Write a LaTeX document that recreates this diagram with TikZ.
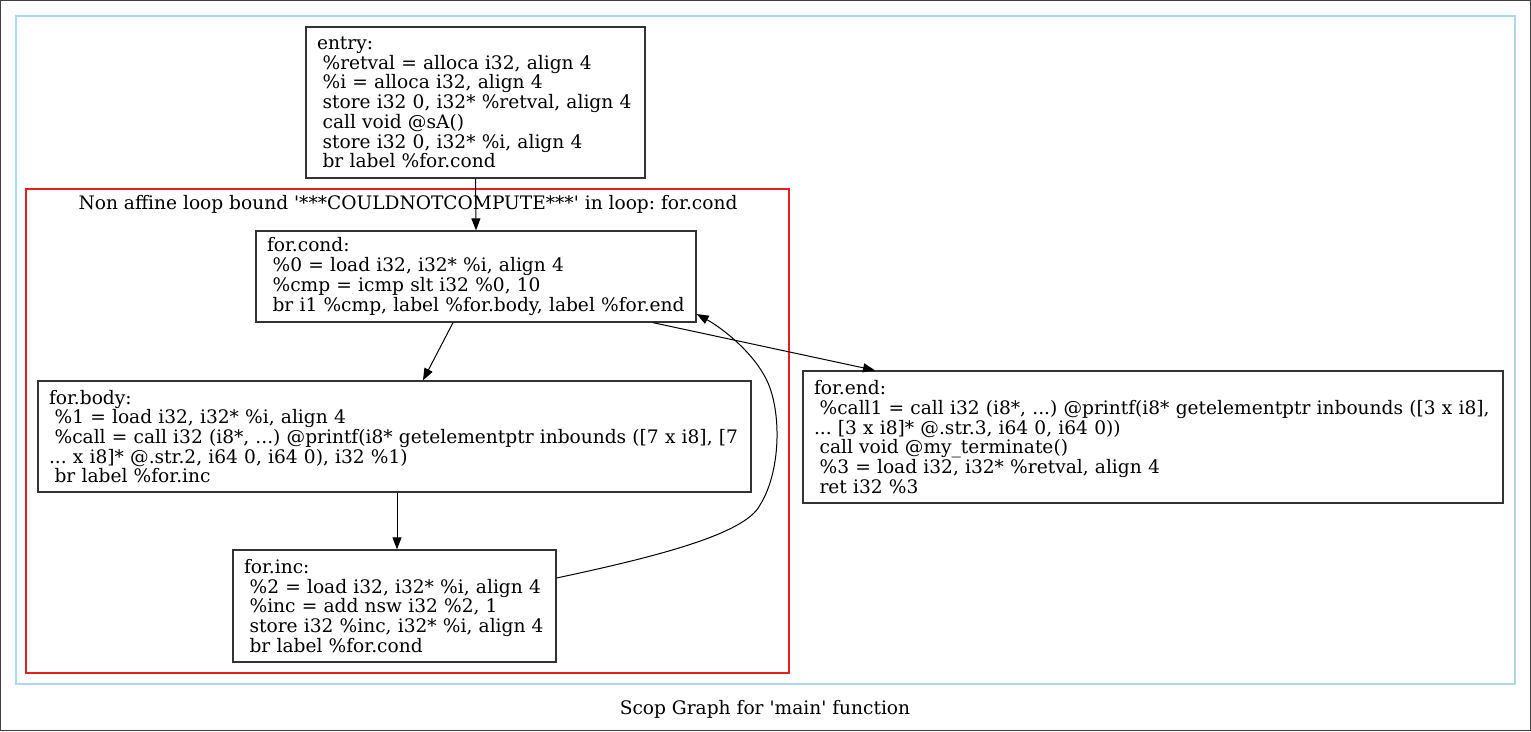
\documentclass[tikz,border=0pt]{standalone}
\usepackage{fontspec}
\newfontfamily\gvfont{DejaVu Serif}
\usetikzlibrary{arrows.meta}
\newcommand\ind{\hspace*{0.3em}}
\begin{document}
\frenchspacing
\begin{tikzpicture}[x=1pt,y=-1pt,
  every node/.style={font=\gvfont\fontsize{18.6}{19.7}\selectfont},
  blk/.style={draw=black!80,line width=1.3pt,rectangle,inner xsep=11pt,inner ysep=0pt,align=left},
  arr/.style={draw=black,line width=1pt,-{Triangle[length=12pt,width=9pt]}},
  clusterblue/.style={draw={rgb,255:red,173;green,216;blue,230},line width=1.3pt},
  clusterred/.style={draw={rgb,255:red,230;green,30;blue,30},line width=1.3pt}]
\useasboundingbox (0,0) rectangle (1531,731);
\draw[black!75,line width=1.3pt] (0.6,0.6) rectangle (1530.4,730.4);
\draw[clusterblue] (16,16) rectangle (1515,684);
\draw[clusterred] (26,189) rectangle (789,673);
\node (redlabel) at (408,204) {Non affine loop bound '***COULDNOTCOMPUTE***' in loop: for.cond};
\node (caption) at (765,709) {Scop Graph for 'main' function};

\node[blk,text width=317pt,minimum height=151pt] (entry) at (475.5,102.5) {entry:\\
\ind\%retval = alloca i32, align 4\\
\ind\%i = alloca i32, align 4\\
\ind store i32 0, i32* \%retval, align 4\\
\ind call void @sA()\\
\ind store i32 0, i32* \%i, align 4\\
\ind br label \%for.cond};

\node[blk,text width=418pt,minimum height=91pt] (cond) at (476,276.5) {for.cond:\\
\ind\%0 = load i32, i32* \%i, align 4\\
\ind\%cmp = icmp slt i32 \%0, 10\\
\ind br i1 \%cmp, label \%for.body, label \%for.end};

\node[blk,text width=691pt,minimum height=111pt] (body) at (394.5,436.5) {for.body:\\
\ind\%1 = load i32, i32* \%i, align 4\\
\ind\%call = call i32 (i8*, ...) @printf(i8* getelementptr inbounds ([7 x i8], [7\\
... x i8]* @.str.2, i64 0, i64 0), i32 \%1)\\
\ind br label \%for.inc};

\node[blk,text width=301pt,minimum height=112pt] (inc) at (394.5,606) {for.inc:\\
\ind\%2 = load i32, i32* \%i, align 4\\
\ind\%inc = add nsw i32 \%2, 1\\
\ind store i32 \%inc, i32* \%i, align 4\\
\ind br label \%for.cond};

\node[blk,text width=678pt,minimum height=132pt] (end) at (1153,437) {for.end:\\
\ind\%call1 = call i32 (i8*, ...) @printf(i8* getelementptr inbounds ([3 x i8],\\
... [3 x i8]* @.str.3, i64 0, i64 0))\\
\ind call void @my\_terminate()\\
\ind\%3 = load i32, i32* \%retval, align 4\\
\ind ret i32 \%3};

\draw[arr] (entry.south) -- (cond.north);
\draw[arr] (cond.south -| 453,0) -- (body.north -| 423,0);
\draw[arr] (body.south -| 397,0) -- (inc.north -| 397,0);
\draw[arr] (cond.south -| 653,0) -- (end.north -| 875,0);
\draw[arr] (inc.east |- 0,578) .. controls (650,558) and (745,535) .. (760,505)
  .. controls (782,470) and (782,405) .. (764,375)
  .. controls (750,350) and (722,328) .. (cond.east |- 0,314);
\end{tikzpicture}
\end{document}
